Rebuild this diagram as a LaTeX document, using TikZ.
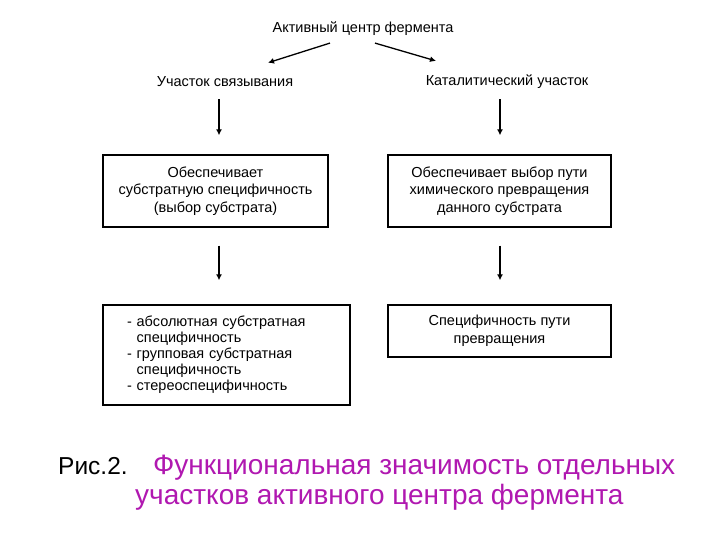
\documentclass[tikz,border=0pt]{standalone}
\usepackage{fontspec}
\setmainfont{Liberation Sans}
\usetikzlibrary{arrows.meta}
\usetikzlibrary{calc,positioning}
\tikzstyle{arrow} = [line width=1.3pt,-{Latex[length=6pt,width=6pt]}]
\tikzset{
    block/.style = {draw, line width=1.3pt, fill=white, rectangle, align=center, font=\fontsize{14.5}{17.5}\selectfont},
    heading/.style = {inner sep=0pt, font=\fontsize{14.5}{17.5}\selectfont},
}
\usepackage{xcolor}
\definecolor{capmagenta}{RGB}{176,24,176}

\begin{document}
\begin{tikzpicture}[x=1pt, y=-1pt]
    \useasboundingbox (0,0) rectangle (720,540);

    \node [heading] (centre) at (363,29) {Активный центр фермента};
    \node [heading] (bind) at (225,82) {Участок связывания};
    \node [heading] (cat) at (507,82) {Каталитический участок};

    \node [block, minimum width=225pt, minimum height=72pt] (ensure) at (215.5,191)
        {Обеспечивает\\субстратную специфичность\\(выбор субстрата)};
    \node [block, minimum width=223pt, minimum height=72pt] (path) at (499.5,191)
        {Обеспечивает выбор пути\\химического превращения\\данного субстрата};
    \node [block, align=left, text width=199pt, inner xsep=24pt, minimum height=100pt,
           font=\fontsize{14.5}{16}\selectfont] (kinds) at (226.5,355)
        {- абсолютная субстратная\\\phantom{- }специфичность\\- групповая субстратная\\\phantom{- }специфичность\\- стереоспецифичность};
    \node [block, minimum width=223pt, minimum height=52pt] (pathspec) at (499.5,331)
        {Специфичность пути\\превращения};

    \draw [arrow] ([xshift=-33pt,yshift=-7pt]centre.south) -- ([xshift=43pt,yshift=14pt]bind.north);
    \draw [arrow] ([xshift=12pt,yshift=-7pt]centre.south) -- ([xshift=-71pt,yshift=14pt]cat.north);
    \draw [arrow] ([xshift=3.5pt,yshift=55pt]ensure.north) -- ([xshift=3.5pt,yshift=19pt]ensure.north);
    \draw [arrow] ([xshift=0.5pt,yshift=55pt]path.north) -- ([xshift=0.5pt,yshift=19pt]path.north);
    \draw [arrow] ([xshift=3.5pt,yshift=-18pt]ensure.south) -- ([xshift=-7.5pt,yshift=24pt]kinds.north);
    \draw [arrow] ([xshift=0.5pt,yshift=-18pt]path.south) -- ([xshift=0.5pt,yshift=24pt]pathspec.north);

    % caption
    \node [anchor=base west, inner sep=0pt, font=\fontsize{24.5}{30}\selectfont] (fig) at (58,474) {Рис.2.};
    \node [anchor=base west, inner sep=0pt, text=capmagenta, font=\fontsize{28}{32}\selectfont] (capone) at (153,474)
        {Функциональная значимость отдельных};
    \node [anchor=base west, inner sep=0pt, text=capmagenta, font=\fontsize{28}{32}\selectfont] (captwo) at (135,504)
        {участков активного центра фермента};
\end{tikzpicture}
\end{document}
